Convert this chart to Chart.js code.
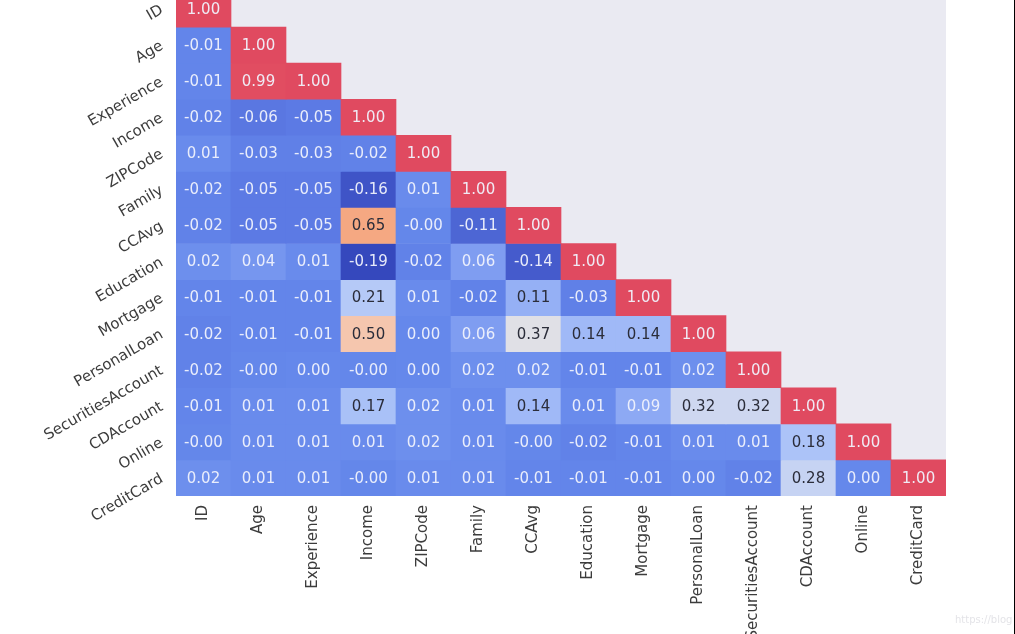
<!DOCTYPE html>
<html>
<head>
<meta charset="utf-8">
<script src="https://cdn.jsdelivr.net/npm/chart.js@4.4.1/dist/chart.umd.min.js"></script>
<style>
  html, body { margin: 0; padding: 0; background: #ffffff; overflow: hidden; }
  body { width: 1015px; height: 634px; position: relative; }
  #wrap { position: absolute; left: 0; top: -9px; width: 1015px; height: 643px; }
  #edge { position: absolute; left: 1014px; top: 0; width: 1px; height: 634px; background: #000; }
  #wm { position: absolute; left: 955px; top: 614px; font: 10px "DejaVu Sans", sans-serif; color: #e4e4e8; white-space: nowrap; }
</style>
</head>
<body>
<div id="wrap"><canvas id="c" width="1015" height="643"></canvas></div>
<div id="edge"></div>
<div id="wm">https://blog</div>
<script>
const labels = ["ID","Age","Experience","Income","ZIPCode","Family","CCAvg","Education","Mortgage","PersonalLoan","SecuritiesAccount","CDAccount","Online","CreditCard"];

const rowID                = [1.00];
const rowAge               = [-0.01, 1.00];
const rowExperience        = [-0.01, 0.99, 1.00];
const rowIncome            = [-0.02, -0.06, -0.05, 1.00];
const rowZIPCode           = [0.01, -0.03, -0.03, -0.02, 1.00];
const rowFamily            = [-0.02, -0.05, -0.05, -0.16, 0.01, 1.00];
const rowCCAvg             = [-0.02, -0.05, -0.05, 0.65, -0.004, -0.11, 1.00];
const rowEducation         = [0.02, 0.04, 0.01, -0.19, -0.02, 0.06, -0.14, 1.00];
const rowMortgage          = [-0.01, -0.01, -0.01, 0.21, 0.01, -0.02, 0.11, -0.03, 1.00];
const rowPersonalLoan      = [-0.02, -0.01, -0.01, 0.50, 0.00, 0.06, 0.37, 0.14, 0.14, 1.00];
const rowSecuritiesAccount = [-0.02, -0.004, 0.00, -0.004, 0.00, 0.02, 0.02, -0.01, -0.01, 0.02, 1.00];
const rowCDAccount         = [-0.01, 0.01, 0.01, 0.17, 0.02, 0.01, 0.14, 0.01, 0.09, 0.32, 0.32, 1.00];
const rowOnline            = [-0.004, 0.01, 0.01, 0.01, 0.02, 0.01, -0.004, -0.02, -0.01, 0.01, 0.01, 0.18, 1.00];
const rowCreditCard        = [0.02, 0.01, 0.01, -0.004, 0.01, 0.01, -0.01, -0.01, -0.01, 0.00, -0.02, 0.28, 0.00, 1.00];

const corr = [rowID, rowAge, rowExperience, rowIncome, rowZIPCode, rowFamily, rowCCAvg,
  rowEducation, rowMortgage, rowPersonalLoan, rowSecuritiesAccount, rowCDAccount, rowOnline, rowCreditCard];

// colour map (style)
const stops = [
  [-0.20, [50, 68, 186]],
  [-0.15, [66, 88, 202]],
  [-0.10, [80, 105, 214]],
  [-0.05, [92, 122, 228]],
  [ 0.00, [101, 136, 235]],
  [ 0.05, [122, 153, 240]],
  [ 0.10, [146, 173, 245]],
  [ 0.15, [163, 188, 247]],
  [ 0.20, [178, 200, 248]],
  [ 0.28, [198, 211, 243]],
  [ 0.32, [206, 215, 240]],
  [ 0.37, [224, 224, 230]],
  [ 0.50, [245, 198, 174]],
  [ 0.65, [245, 168, 130]],
  [ 0.80, [238, 125, 108]],
  [ 1.00, [224, 74, 96]]
];
function colorFor(v) {
  if (v <= stops[0][0]) return 'rgb(' + stops[0][1].join(',') + ')';
  for (let k = 1; k < stops.length; k++) {
    if (v <= stops[k][0]) {
      const [a, ca] = stops[k - 1], [b, cb] = stops[k];
      const t = (v - a) / (b - a);
      const c = ca.map((x, m) => Math.round(x + (cb[m] - x) * t));
      return 'rgb(' + c.join(',') + ')';
    }
  }
  return 'rgb(' + stops[stops.length - 1][1].join(',') + ')';
}

const datasets = corr.map((row, i) => ({
  label: labels[i],
  data: labels.map((_, j) => (j < row.length ? [i, i + 1] : null)),
  backgroundColor: (ctx) => {
    const v = row[ctx.dataIndex];
    return v === undefined ? 'rgba(0,0,0,0)' : colorFor(v);
  },
  borderWidth: 0,
  grouped: false,
  barPercentage: 1,
  categoryPercentage: 1
}));

const bgPlugin = {
  id: 'bg',
  beforeDraw(chart) {
    const { ctx, chartArea: a } = chart;
    ctx.save();
    ctx.fillStyle = '#EAEAF2';
    ctx.fillRect(a.left, a.top, a.right - a.left, a.bottom - a.top);
    ctx.restore();
  }
};

const textPlugin = {
  id: 'celltext',
  afterDatasetsDraw(chart) {
    const ctx = chart.ctx;
    ctx.save();
    ctx.font = '15px "DejaVu Sans", sans-serif';
    ctx.textAlign = 'center';
    ctx.textBaseline = 'middle';
    chart.data.datasets.forEach((ds, i) => {
      const meta = chart.getDatasetMeta(i);
      const row = corr[i];
      meta.data.forEach((el, j) => {
        if (j >= row.length) return;
        const v = row[j];
        const p = el.getCenterPoint();
        ctx.fillStyle = (v >= 0.1 && v < 0.8) ? '#2b2d3a' : 'rgba(240,242,252,0.95)';
        ctx.fillText(v.toFixed(2), p.x, p.y + 1);
      });
    });
    ctx.restore();
  }
};

new Chart(document.getElementById('c'), {
  type: 'bar',
  data: { labels: labels, datasets: datasets },
  options: {
    responsive: false,
    animation: false,
    devicePixelRatio: 1,
    layout: { padding: { top: 0, right: 69, left: 0, bottom: 0 } },
    plugins: { legend: { display: false }, tooltip: { enabled: false } },
    scales: {
      x: {
        type: 'category',
        offset: true,
        border: { display: false },
        grid: { display: false, drawTicks: false },
        ticks: {
          minRotation: 90, maxRotation: 90, autoSkip: false, padding: 9,
          color: '#3c3c3c', font: { family: 'DejaVu Sans', size: 15 }
        },
        afterFit: (s) => { s.height = 138; s.paddingLeft = 0; s.paddingRight = 0; }
      },
      y: {
        type: 'linear',
        min: 0, max: 14,
        reverse: true,
        border: { display: false },
        grid: { display: false, drawTicks: false },
        afterBuildTicks: (s) => { s.ticks = labels.map((_, i) => ({ value: i + 0.5 })); },
        ticks: {
          autoSkip: false, minRotation: 30, maxRotation: 30, padding: 14,
          color: '#3c3c3c', font: { family: 'DejaVu Sans', size: 15 },
          callback: (v, idx) => labels[idx]
        },
        afterFit: (s) => { s.width = 176; s.paddingTop = 0; s.paddingBottom = 0; }
      }
    }
  },
  plugins: [bgPlugin, textPlugin]
});
</script>
</body>
</html>
